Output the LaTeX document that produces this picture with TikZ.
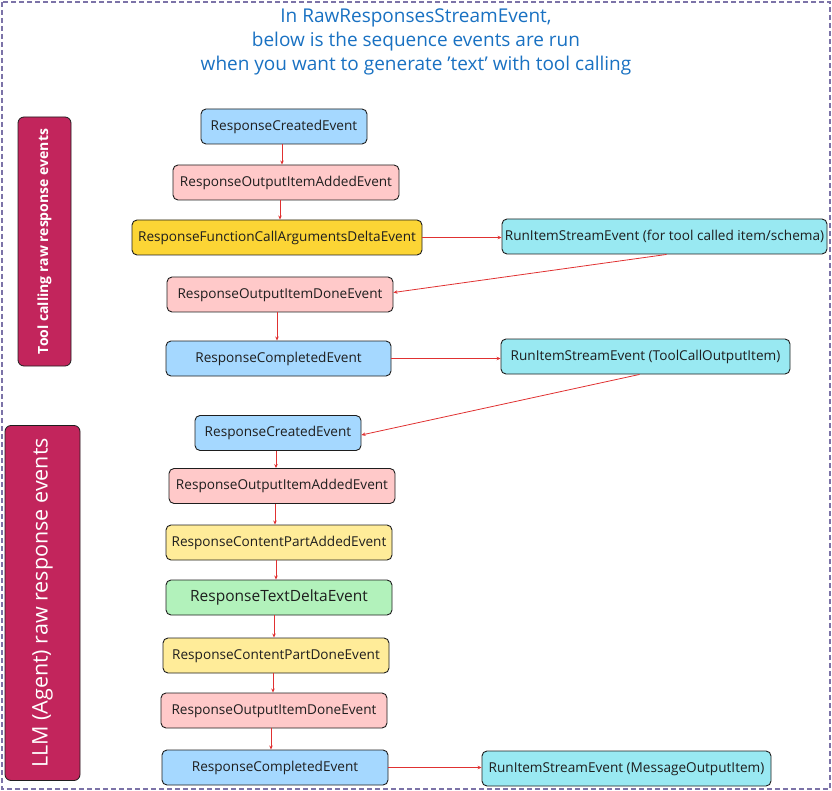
\documentclass[tikz,border=0pt]{standalone}
\usepackage{fontspec}
\setmainfont{Open Sans}
\usetikzlibrary{arrows.meta}
\definecolor{cblue}{HTML}{A5D8FF}
\definecolor{cpink}{HTML}{FFC9C9}
\definecolor{cyel}{HTML}{FCD535}
\definecolor{clyel}{HTML}{FFEC99}
\definecolor{cgreen}{HTML}{B2F2BB}
\definecolor{ccyan}{HTML}{99E9F2}
\definecolor{ccrim}{HTML}{C2255C}
\definecolor{ctitle}{HTML}{1971C2}
\definecolor{cborder}{HTML}{7C73A8}
\definecolor{carrow}{HTML}{E03131}
\definecolor{cstroke}{HTML}{1E1E1E}
\tikzset{
  ev/.style={draw=cstroke, line width=0.9pt, rounded corners=5pt, inner sep=0pt,
    minimum height=35pt, text height=0.72em, text depth=0pt,
    font=\fontsize{13.6}{15}\selectfont, text=cstroke},
  band/.style={fill=ccrim, draw=cstroke, line width=0.8pt, rounded corners=6pt, inner sep=0pt},
  conn/.style={draw=carrow, line width=0.8pt, -{Stealth[length=4pt,width=3.5pt]}},
  ttl/.style={text=ctitle, font=\fontsize{19}{22}\selectfont, inner sep=0pt}
}
\begin{document}
\begin{tikzpicture}[x=1pt,y=-1pt]
\useasboundingbox (0,0) rectangle (832,791);
\draw[cborder, line width=1.2pt, dash pattern=on 5pt off 3pt] (2,2) rectangle (830,789);
% title
\node[ttl] (t1) at (416,18) {In RawResponsesStreamEvent,};
\node[ttl] (t2) at (416,42) {below is the sequence events are run};
\node[ttl] (t3) at (416,66) {when you want to generate 'text' with tool calling};
% left bands
\node[band, minimum width=53pt, minimum height=249pt] (b1) at (44.5,241.5) {};
\node[rotate=90, text=white, font=\fontsize{14}{16}\selectfont\bfseries] (b1t) at (b1.center) {Tool calling raw response events};
\node[band, minimum width=75pt, minimum height=355pt] (b2) at (42.5,603) {};
\node[rotate=90, text=white, font=\fontsize{21.5}{24}\selectfont] (b2t) at (b2.center) {LLM (Agent) raw response events};
% tool calling sequence
\node[ev, fill=cblue, minimum width=166pt] (a1) at (284,126.5) {ResponseCreatedEvent};
\node[ev, fill=cpink, minimum width=226pt] (a2) at (286,182.5) {ResponseOutputItemAddedEvent};
\node[ev, fill=cyel, minimum width=290pt] (a3) at (277,237.5) {ResponseFunctionCallArgumentsDeltaEvent};
\node[ev, fill=ccyan, minimum width=325pt] (r1) at (664.5,236.5) {RunItemStreamEvent (for tool called item/schema)};
\node[ev, fill=cpink, minimum width=226pt] (a4) at (280,294.5) {ResponseOutputItemDoneEvent};
\node[ev, fill=cblue, minimum width=225pt] (a5) at (278.5,358.5) {ResponseCompletedEvent};
\node[ev, fill=ccyan, minimum width=289pt] (r2) at (645.5,356.5) {RunItemStreamEvent (ToolCallOutputItem)};
% LLM sequence
\node[ev, fill=cblue, minimum width=166pt] (c1) at (278,433) {ResponseCreatedEvent};
\node[ev, fill=cpink, minimum width=226pt] (c2) at (282,486) {ResponseOutputItemAddedEvent};
\node[ev, fill=clyel, minimum width=226pt] (c3) at (279,542.5) {ResponseContentPartAddedEvent};
\node[ev, fill=cgreen, minimum width=226pt, font=\fontsize{15.5}{17}\selectfont] (c4) at (279,597.5) {ResponseTextDeltaEvent};
\node[ev, fill=clyel, minimum width=226pt] (c5) at (276,655.5) {ResponseContentPartDoneEvent};
\node[ev, fill=cpink, minimum width=226pt] (c6) at (274,710.5) {ResponseOutputItemDoneEvent};
\node[ev, fill=cblue, minimum width=226pt] (c7) at (275,767.5) {ResponseCompletedEvent};
\node[ev, fill=ccyan, minimum width=289pt] (r3) at (626.5,768.5) {RunItemStreamEvent (MessageOutputItem)};
% connectors
\draw[conn] ([xshift=-2pt]a1.south) -- ([xshift=-2pt]a1.south |- a2.north);
\draw[conn] ([xshift=-6pt]a2.south) -- ([xshift=-6pt]a2.south |- a3.north);
\draw[conn] (a3.east) -- (a3.east -| r1.west);
\draw[conn] ([xshift=2pt]r1.south) -- ([yshift=2pt]a4.east);
\draw[conn] ([xshift=-3pt]a4.south) -- ([xshift=-3pt]a4.south |- a5.north);
\draw[conn] (a5.east) -- (a5.east -| r2.west);
\draw[conn] ([xshift=-6pt]r2.south) -- ([yshift=-2pt]c1.east);
\draw[conn] ([xshift=-2pt]c1.south) -- ([xshift=-2pt]c1.south |- c2.north);
\draw[conn] ([xshift=-7pt]c2.south) -- ([xshift=-7pt]c2.south |- c3.north);
\draw[conn] ([xshift=-3pt]c3.south) -- ([xshift=-3pt]c3.south |- c4.north);
\draw[conn] ([xshift=-5pt]c4.south) -- ([xshift=-5pt]c4.south |- c5.north);
\draw[conn] ([xshift=-3pt]c5.south) -- ([xshift=-3pt]c5.south |- c6.north);
\draw[conn] ([xshift=-3pt]c6.south) -- ([xshift=-3pt]c6.south |- c7.north);
\draw[conn] (c7.east) -- (c7.east -| r3.west);
\end{tikzpicture}
\end{document}
